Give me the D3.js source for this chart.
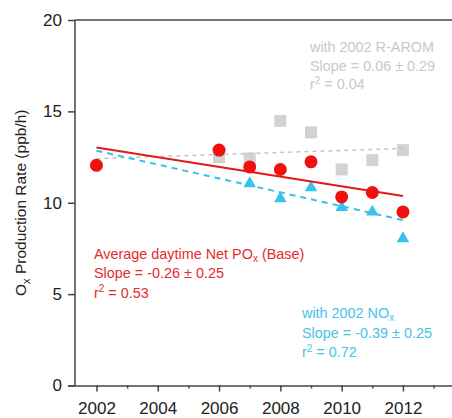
<!DOCTYPE html>
<html><head><meta charset="utf-8">
<script src="https://cdn.jsdelivr.net/npm/d3@7"></script>
<style>body{margin:0;background:#fff}svg{display:block;font-family:Arial,"Liberation Sans",sans-serif}</style>
</head><body><svg id="c" width="452" height="418"></svg>
<script>
// ---- data ----
const baseYears = [2002, 2006, 2007, 2008, 2009, 2010, 2011, 2012];
const baseValues = [12.05, 12.88, 11.96, 11.82, 12.24, 10.32, 10.56, 9.5];
const noxYears = [2007, 2008, 2009, 2010, 2011, 2012];
const noxValues = [11.05, 10.23, 10.83, 9.74, 9.5, 8.04];
const aromYears = [2006, 2007, 2008, 2009, 2010, 2011, 2012];
const aromValues = [12.5, 12.42, 14.48, 13.85, 11.82, 12.33, 12.88];
const fitYears = [2002, 2012];
const baseFit = [13.02, 10.37];
const noxFit = [12.85, 9.05];
const aromFit = [12.42, 12.97];
const xTicks = [2002, 2004, 2006, 2008, 2010, 2012];
const xMinorTicks = [2003, 2005, 2007, 2009, 2011, 2013];
const yTicks = [0, 5, 10, 15, 20];

const svg = d3.select('#c');
const x = d3.scaleLinear().domain([2001.3, 2013.6]).range([75, 452]);
const y = d3.scaleLinear().domain([0, 20]).range([385.5, 20]);

const RED = '#f01010', BLUE = '#35c2ec', GRAY = '#d2d2d2';
const AX = '#444';

// top frame line
svg.append('line').attr('x1', 75).attr('x2', 452).attr('y1', y(20)).attr('y2', y(20))
  .attr('stroke', AX).attr('stroke-width', 1.5);

// y axis
const yAx = svg.append('g').attr('transform', 'translate(75,0)')
  .call(d3.axisLeft(y).tickValues(yTicks).tickSize(7).tickPadding(6).tickFormat(d3.format('d')));
// x axis
const xAx = svg.append('g').attr('transform', `translate(0,${y(0)})`)
  .call(d3.axisBottom(x).tickValues(xTicks).tickSize(6).tickPadding(10).tickFormat(d3.format('d')));
svg.append('g').attr('transform', `translate(0,${y(0)})`)
  .call(d3.axisBottom(x).tickValues(xMinorTicks).tickSize(3).tickFormat(''))
  .call(g => g.select('.domain').remove());
svg.selectAll('.domain').attr('stroke', AX).attr('stroke-width', 1.5);
svg.selectAll('.tick line').attr('stroke', AX).attr('stroke-width', 1.5);
svg.selectAll('.tick text').attr('fill', '#222').style('font-size', '17px').style('font-family', 'Arial, "Liberation Sans", sans-serif');
xAx.select('.domain').attr('d', `M68,0.5H452`);
yAx.select('.domain').attr('d', `M0,${y(20)}V${y(0)}`);

// y title
const yt = svg.append('text').attr('transform', `translate(26,${(y(0)+y(20))/2}) rotate(-90)`)
  .attr('text-anchor', 'middle').attr('fill', '#222').style('font-size', '15.5px');
yt.append('tspan').text('O');
yt.append('tspan').text('x').attr('dy', 4).style('font-size', '11px');
yt.append('tspan').text(' Production Rate (ppb/h)').attr('dy', -4);

const line = d3.line().x(d => x(d[0])).y(d => y(d[1]));

// gray squares + fit
svg.append('g').selectAll('rect').data(aromYears.map((d, i) => [d, aromValues[i]])).join('rect')
  .attr('x', d => x(d[0]) - 6).attr('y', d => y(d[1]) - 6).attr('width', 12).attr('height', 12)
  .attr('fill', GRAY);
svg.append('path').attr('d', line(fitYears.map((d, i) => [d, aromFit[i]])))
  .attr('fill', 'none').attr('stroke', '#c4c4c4').attr('stroke-width', 1.5).attr('stroke-dasharray', '4,4');

// blue triangles + fit
const tri = d3.symbol().type(d3.symbolTriangle).size(68);
svg.append('g').selectAll('path').data(noxYears.map((d, i) => [d, noxValues[i]])).join('path')
  .attr('d', tri).attr('transform', d => `translate(${x(d[0])},${y(d[1])})`).attr('fill', BLUE);
svg.append('path').attr('d', line(fitYears.map((d, i) => [d, noxFit[i]])))
  .attr('fill', 'none').attr('stroke', BLUE).attr('stroke-width', 2).attr('stroke-dasharray', '6,5');

// red fit + circles
svg.append('path').attr('d', line(fitYears.map((d, i) => [d, baseFit[i]])))
  .attr('fill', 'none').attr('stroke', '#e01a1a').attr('stroke-width', 2);
svg.append('g').selectAll('circle').data(baseYears.map((d, i) => [d, baseValues[i]])).join('circle')
  .attr('cx', d => x(d[0])).attr('cy', d => y(d[1])).attr('r', 6.5).attr('fill', RED);

// annotations
function block(x0, y0, color, step, lines) {
  const g = svg.append('g').attr('fill', color).style('font-size', '14.4px');
  lines.forEach((parts, i) => {
    const t = g.append('text').attr('x', x0).attr('y', y0 + i * step);
    parts.forEach(p => {
      const s = t.append('tspan').text(p.t);
      if (p.sub) s.attr('dy', 3).style('font-size', '10px');
      if (p.sup) s.attr('dy', -5.5).style('font-size', '10px');
      if (p.back) s.attr('dy', p.back);
    });
  });
}
block(310, 52, '#c8c8c8', 18.5, [
  [{t: 'with 2002 R-AROM'}],
  [{t: 'Slope = 0.06 ± 0.29'}],
  [{t: 'r'}, {t: '2', sup: true}, {t: ' = 0.04', back: 5.5}]
]);
block(94, 258.5, '#e42b2b', 19.7, [
  [{t: 'Average daytime Net PO'}, {t: 'x', sub: true}, {t: ' (Base)', back: -3}],
  [{t: 'Slope = -0.26 ± 0.25'}],
  [{t: 'r'}, {t: '2', sup: true}, {t: ' = 0.53', back: 5.5}]
]);
block(302, 318, '#45c3ea', 19.7, [
  [{t: 'with 2002 NO'}, {t: 'x', sub: true}],
  [{t: 'Slope = -0.39 ± 0.25'}],
  [{t: 'r'}, {t: '2', sup: true}, {t: ' = 0.72', back: 5.5}]
]);
</script></body></html>
